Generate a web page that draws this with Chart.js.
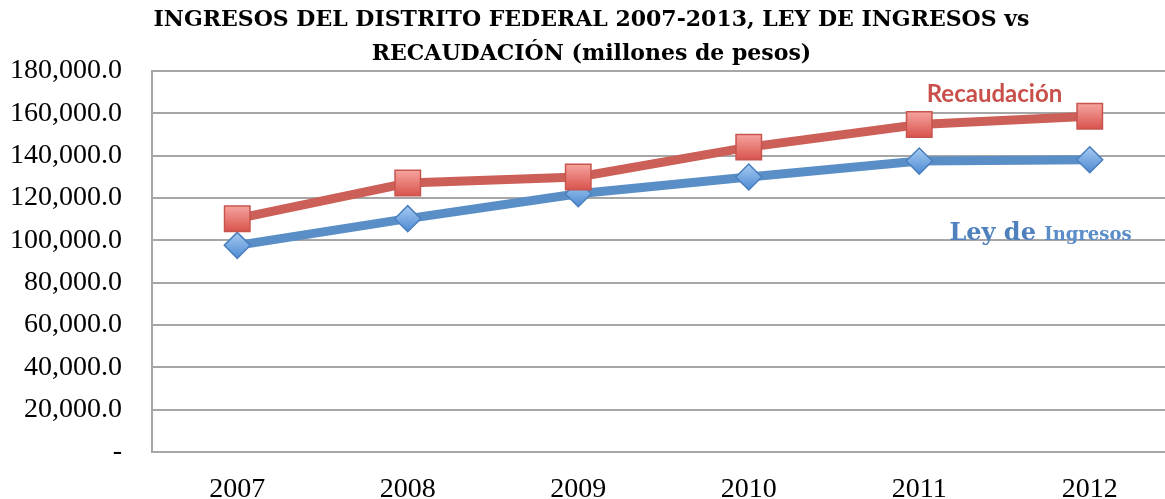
<!DOCTYPE html>
<html>
<head>
<meta charset="utf-8">
<script src="https://cdn.jsdelivr.net/npm/chart.js@4"></script>
<style>
  html, body { margin: 0; padding: 0; background: #fff; overflow: hidden; }
  canvas { display: block; }
</style>
</head>
<body>
<canvas id="chart" width="1180" height="499"></canvas>
<script>
const years = ['2007', '2008', '2009', '2010', '2011', '2012'];
const recaudacion = [110200, 127000, 129900, 144000, 154700, 158600];
const leyIngresos = [97600, 110200, 122000, 129900, 137400, 138000];
const yTicks = [0, 20000, 40000, 60000, 80000, 100000, 120000, 140000, 160000, 180000];

const RED = '#CC5F57';
const BLUE = '#5A8EC6';

// vertical gradient for each marker, light on top
function markerFill(light, dark, r) {
    return function (ctx) {
        const chart = ctx.chart;
        const y = chart.scales.y.getPixelForValue(ctx.parsed ? ctx.parsed.y : 0);
        if (!isFinite(y)) return dark;
        const g = chart.ctx.createLinearGradient(0, y - r, 0, y + r);
        g.addColorStop(0, light);
        g.addColorStop(1, dark);
        return g;
    };
}

// the two labels written inside the plot
const seriesLabels = {
    id: 'seriesLabels',
    afterDatasetsDraw(chart) {
        const { ctx, scales } = chart;
        const xMid = (scales.x.getPixelForValue(4) + scales.x.getPixelForValue(5)) / 2;
        ctx.save();
        ctx.textBaseline = 'alphabetic';

        ctx.fillStyle = '#C9504A';
        ctx.font = 'bold 24px Lato';
        ctx.textAlign = 'center';
        ctx.fillText('Recaudación', xMid - 10, scales.y.getPixelForValue(165500));

        const yb = scales.y.getPixelForValue(100000);
        ctx.fillStyle = '#4F81BD';
        ctx.textAlign = 'left';
        ctx.font = 'bold 24px "DejaVu Serif"';
        const a = 'Ley de ';
        const wa = ctx.measureText(a).width;
        ctx.font = 'bold 18px "DejaVu Serif"';
        const wb = ctx.measureText('Ingresos').width;
        let x0 = xMid + 36 - (wa + wb) / 2;
        ctx.font = 'bold 24px "DejaVu Serif"';
        ctx.fillText(a, x0, yb);
        ctx.font = 'bold 18px "DejaVu Serif"';
        ctx.fillStyle = '#5B8DC9';
        ctx.fillText('Ingresos', x0 + wa, yb);
        ctx.restore();
    }
};

new Chart(document.getElementById('chart'), {
    type: 'line',
    data: {
        labels: years,
        datasets: [
            {
                label: 'Recaudación',
                data: recaudacion,
                borderColor: RED,
                borderWidth: 9,
                pointStyle: 'rect',
                pointRadius: 18,
                pointBorderWidth: 1.5,
                pointBorderColor: '#C8544E',
                pointBackgroundColor: markerFill('#F6A5A0', '#D9524C', 13),
                tension: 0
            },
            {
                label: 'Ley de Ingresos',
                data: leyIngresos,
                borderColor: BLUE,
                borderWidth: 9,
                pointStyle: 'rectRot',
                pointRadius: 13,
                pointBorderWidth: 1.5,
                pointBorderColor: '#4A7FBE',
                pointBackgroundColor: markerFill('#A6CBF2', '#4E8AD2', 13),
                tension: 0
            }
        ]
    },
    options: {
        responsive: false,
        animation: false,
        // canvas is a little wider than the window: plot runs past the right edge
        layout: { autoPadding: false, padding: { left: 8, right: 5, top: 0, bottom: 0 } },
        plugins: {
            legend: { display: false },
            tooltip: { enabled: false },
            title: {
                display: true,
                text: ['INGRESOS DEL DISTRITO FEDERAL 2007-2013, LEY DE INGRESOS vs', 'RECAUDACIÓN (millones de pesos)'],
                color: '#000',
                font: { family: 'DejaVu Serif', weight: 'bold', size: 22, lineHeight: 1.52 },
                padding: { top: 4, bottom: 0 }
            }
        },
        scales: {
            x: {
                offset: true,
                afterFit(axis) {
                    axis.height = 47;
                    axis.paddingLeft = 0;
                    axis.paddingRight = 0;
                },
                grid: { display: false, drawTicks: false },
                border: { color: '#A6A6A6', width: 2 },
                ticks: {
                    color: '#000',
                    padding: 24,
                    font: { family: 'Liberation Serif', size: 28, lineHeight: 1 }
                }
            },
            y: {
                min: 0,
                max: 180000,
                afterBuildTicks(axis) { axis.ticks = yTicks.map(v => ({ value: v })); },
                afterFit(axis) { axis.width = 144; },
                grid: { color: '#A6A6A6', lineWidth: 2, drawTicks: false },
                border: { color: '#A6A6A6', width: 2 },
                ticks: {
                    color: '#000',
                    padding: 30,
                    font: { family: 'Liberation Serif', size: 28, lineHeight: 1 },
                    callback: v => v === 0 ? '-' : v.toLocaleString('en-US', { minimumFractionDigits: 1, maximumFractionDigits: 1 })
                }
            }
        }
    },
    plugins: [seriesLabels]
});
</script>
</body>
</html>
